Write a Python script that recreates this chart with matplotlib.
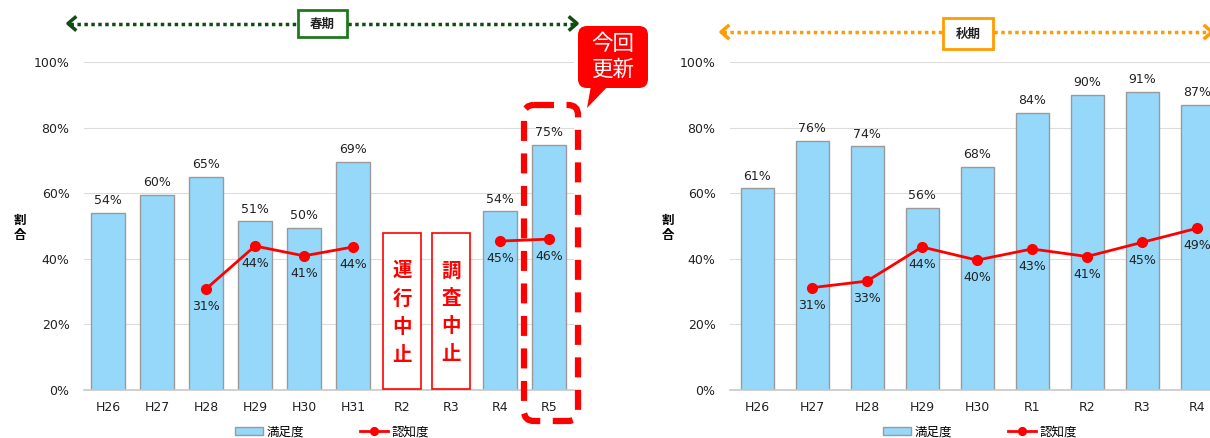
"""
満足度・認知度の推移（春期／秋期）
"""
import numpy as np
import matplotlib.pyplot as plt
from matplotlib.patches import FancyBboxPatch, Rectangle, Polygon
from matplotlib.lines import Line2D

plt.rcParams['font.family'] = ['DejaVu Sans', 'Noto Sans CJK JP']

# 春期
spring_years = ['H26', 'H27', 'H28', 'H29', 'H30', 'H31', 'R2', 'R3', 'R4', 'R5']
spring_satisfaction = [54, 59.5, 65, 51.5, 49.5, 69.5, np.nan, np.nan, 54.5, 74.8]
spring_sat_labels = ['54%', '60%', '65%', '51%', '50%', '69%', '', '', '54%', '75%']
spring_recognition = [np.nan, np.nan, 30.8, 43.9, 40.9, 43.6, np.nan, np.nan, 45.4, 46.0]
spring_rec_labels = ['', '', '31%', '44%', '41%', '44%', '', '', '45%', '46%']
spring_notes = {'R2': '運\n行\n中\n止', 'R3': '調\n査\n中\n止'}

# 秋期
autumn_years = ['H26', 'H27', 'H28', 'H29', 'H30', 'R1', 'R2', 'R3', 'R4']
autumn_satisfaction = [61.5, 76, 74.3, 55.6, 68, 84.5, 90, 91, 87]
autumn_sat_labels = ['61%', '76%', '74%', '56%', '68%', '84%', '90%', '91%', '87%']
autumn_recognition = [np.nan, 31.2, 33.2, 43.6, 39.6, 43.0, 40.7, 45.0, 49.3]
autumn_rec_labels = ['', '31%', '33%', '44%', '40%', '43%', '41%', '45%', '49%']

W, H = 1210, 438
fig = plt.figure(figsize=(W / 100, H / 100), dpi=100)

BAR_COLOR = '#95d8fa'
BAR_EDGE = '#9a9a9a'
LINE_COLOR = '#ff0000'


def draw_chart(ax, years, sat, sat_labels, rec, rec_labels, bar_width, n_slots):
    x = np.arange(len(years))
    bars = ax.bar(x, sat, width=bar_width, color=BAR_COLOR, edgecolor=BAR_EDGE,
                  linewidth=1, zorder=2, label='満足度')
    line, = ax.plot(x, rec, color=LINE_COLOR, lw=2, marker='o', ms=7, zorder=4,
                    label='認知度')
    for xi, v, s in zip(x, sat, sat_labels):
        if s:
            ax.annotate(s, (xi, v), xytext=(0, 4), textcoords='offset points',
                        ha='center', va='bottom', fontsize=9, color='#222222')
    for xi, v, s in zip(x, rec, rec_labels):
        if s:
            ax.annotate(s, (xi, v), xytext=(0, -8), textcoords='offset points',
                        ha='center', va='top', fontsize=9, color='#222222', zorder=5)
    ax.set_xlim(-0.5, n_slots - 0.5)
    ax.set_ylim(0, 100)
    ax.set_xticks(x)
    ax.set_xticklabels(years, fontsize=9)
    ax.set_yticks(range(0, 101, 20))
    ax.set_yticklabels([f'{v}%' for v in range(0, 101, 20)], fontsize=9)
    ax.tick_params(axis='both', length=0, colors='#222222')
    ax.tick_params(axis='y', pad=10)
    ax.tick_params(axis='x', pad=8)
    ax.grid(axis='y', color='#dcdcdc', lw=0.8, zorder=0)
    ax.set_axisbelow(True)
    for side in ['left', 'right', 'top']:
        ax.spines[side].set_visible(False)
    ax.spines['bottom'].set_color('#c8c8c8')
    ax.spines['bottom'].set_linewidth(1.2)
    return bars, line


bottom = (H - 390) / H
height = 328 / H

ax1 = fig.add_axes([83.5 / W, bottom, 490 / W, height])
bars, line = draw_chart(ax1, spring_years, spring_satisfaction, spring_sat_labels,
                        spring_recognition, spring_rec_labels, 0.69, len(spring_years))
for name, note in spring_notes.items():
    i = spring_years.index(name)
    ax1.add_patch(Rectangle((i - 0.38, 0.3), 0.76, 47.5, facecolor='white',
                            edgecolor=LINE_COLOR, lw=1.2, zorder=3))
    ax1.text(i, 23.5, note, ha='center', va='center', fontsize=14,
             fontweight='bold', color=LINE_COLOR, linespacing=1.6, zorder=4,
             family=['Noto Sans CJK JP'])

ax2 = fig.add_axes([729.5 / W, bottom, 550 / W, height])
draw_chart(ax2, autumn_years, autumn_satisfaction, autumn_sat_labels,
           autumn_recognition, autumn_rec_labels, 0.6, 10)

# 縦書きの軸ラベル
fig.text(20 / W, 1 - 228 / H, '割\n合', ha='center', va='center', fontsize=9,
         fontweight='bold', linespacing=1.3, family=['Noto Sans CJK JP'])
fig.text(668 / W, 1 - 228 / H, '割\n合', ha='center', va='center', fontsize=9,
         fontweight='bold', linespacing=1.3, family=['Noto Sans CJK JP'])

# 凡例（満足度、認知度の順）
for cx in [332, 980]:
    fig.legend([bars, line], ['満足度', '認知度'], loc='center',
               bbox_to_anchor=(cx / W, 1 - 432 / H), ncol=2,
               frameon=False, fontsize=9, handlelength=2.2, handleheight=0.6,
               columnspacing=4.5, handletextpad=0.3, borderaxespad=0,
               markerscale=0.8)

# 注釈用の重ね描き（ピクセル座標）
ov = fig.add_axes([0, 0, 1, 1], zorder=10)
ov.set_xlim(0, W)
ov.set_ylim(H, 0)
ov.axis('off')
ov.patch.set_alpha(0)


def period_arrow(x0, x1, y, color, box_x0, box_x1, box_y0, box_y1, edge, label):
    ov.add_line(Line2D([x0 + 2, x1 - 2], [y, y], color=color, lw=2.5,
                       linestyle=(0, (1, 1))))
    ov.add_line(Line2D([x0 + 7, x0, x0 + 7], [y - 6, y, y + 6], color=color, lw=2.5))
    ov.add_line(Line2D([x1 - 7, x1, x1 - 7], [y - 6, y, y + 6], color=color, lw=2.5))
    ov.add_patch(Rectangle((box_x0, box_y0), box_x1 - box_x0, box_y1 - box_y0,
                           facecolor='white', edgecolor=edge, lw=2, zorder=3))
    ov.text((box_x0 + box_x1) / 2, (box_y0 + box_y1) / 2 + 1, label, ha='center',
            va='center', fontsize=9, fontweight='bold', color='#222222', zorder=4,
            family=['Noto Sans CJK JP'])


period_arrow(68, 577, 23.5, '#0f4d12', 298, 347, 10, 37, '#1f7a1f', '春期')
period_arrow(721, 1212, 32, '#ff9c00', 943, 993, 18, 49, '#ff9c00', '秋期')

# 今回更新の枠
ov.add_patch(FancyBboxPatch((524, 105), 54, 316,
                            boxstyle='round,pad=0,rounding_size=10',
                            facecolor='none', edgecolor=LINE_COLOR, lw=4.5,
                            linestyle=(0, (3.2, 2))))
ov.add_patch(Polygon([(592, 80), (614, 80), (587, 108)], closed=True,
                     facecolor=LINE_COLOR, edgecolor='none'))
ov.add_patch(FancyBboxPatch((578, 26), 70, 62,
                            boxstyle='round,pad=0,rounding_size=9',
                            facecolor=LINE_COLOR, edgecolor='none'))
ov.text(613, 57, '今回\n更新', ha='center', va='center', fontsize=15.5,
        color='white', linespacing=1.2, family=['Noto Sans CJK JP'])

plt.savefig('out.png', dpi=100)
